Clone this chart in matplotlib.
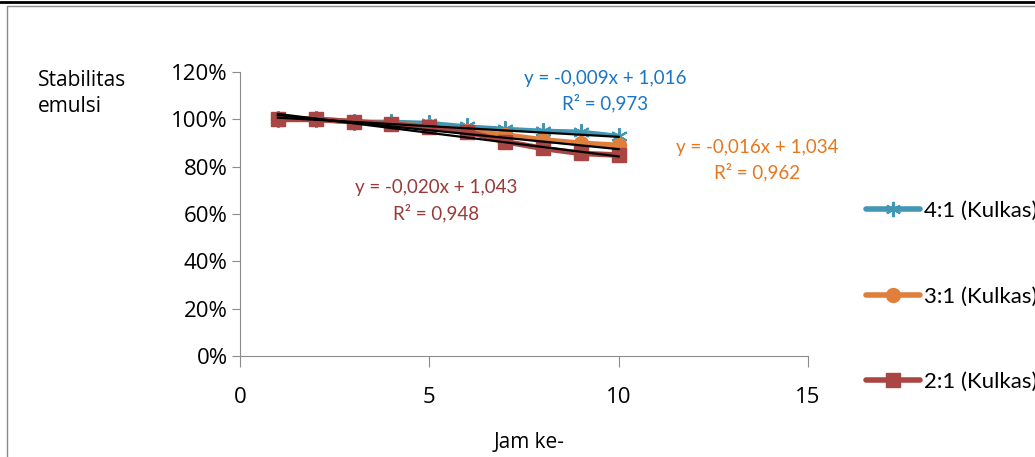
import matplotlib.pyplot as plt
from matplotlib.lines import Line2D
import numpy as np

# data
jam = [1, 2, 3, 4, 5, 6, 7, 8, 9, 10]
seri_label = ['4:1 (Kulkas)', '3:1 (Kulkas)', '2:1 (Kulkas)']
stab_41 = [1.00, 1.00, 0.99, 0.99, 0.985, 0.97, 0.96, 0.952, 0.948, 0.93]
stab_31 = [1.00, 1.00, 0.99, 0.98, 0.97, 0.95, 0.934, 0.913, 0.899, 0.89]
stab_21 = [1.00, 1.00, 0.99, 0.98, 0.966, 0.948, 0.906, 0.877, 0.856, 0.849]
# trendline (slope, intercept, R2) seperti di grafik
tren_slope = [-0.009, -0.016, -0.020]
tren_int = [1.016, 1.034, 1.043]
tren_r2 = [0.973, 0.962, 0.948]
yticks = [0, 0.2, 0.4, 0.6, 0.8, 1.0, 1.2]
xticks = [0, 5, 10, 15]

warna = ['#4298B4', '#E07E3C', '#A94543']
warna_teks = ['#1A76C2', '#E8771F', '#983B39']
marker = [(6, 2, 0), 'o', 's']
msize = [12, 10, 10]

fig = plt.figure(figsize=(10.35, 4.57), dpi=100)
ax = fig.add_axes([240/1035, 1-356/457, 568/1035, 284/457])

semua = [stab_41, stab_31, stab_21]
for i, s in enumerate(semua):
    if i == 0:
        ax.plot(jam, s, color=warna[i], lw=3, marker=marker[i], ms=msize[i],
                mec=warna[i], mew=1.5, zorder=3)
    else:
        ax.plot(jam, s, color=warna[i], lw=4, marker=marker[i], ms=msize[i],
                mec=warna[i], mfc=warna[i], zorder=3 + i)
for i in range(3):
    xx = np.array([jam[0], jam[-1]])
    ax.plot(xx, tren_slope[i]*xx + tren_int[i], color='black', lw=1.6, zorder=7)

# label persamaan
pos = [(9.64, 1.174, 1.069), (13.65, 0.883, 0.777), (5.18, 0.71, 0.604)]
for i in range(3):
    px, py1, py2 = pos[i]
    eq = 'y = ' + ('%.3f' % tren_slope[i]).replace('.', ',') + 'x + ' + ('%.3f' % tren_int[i]).replace('.', ',')
    ax.text(px, py1, eq, color=warna_teks[i], fontsize=13.5, ha='center', va='center',
            family='Lato', zorder=8)
    ax.text(px, py2, 'R² = ' + ('%.3f' % tren_r2[i]).replace('.', ','), color=warna_teks[i],
            fontsize=13.5, ha='center', va='center', family='Lato', zorder=8)

ax.set_xlim(0, 15)
ax.set_ylim(0, 1.2)
ax.set_xticks(xticks)
ax.set_yticks(yticks)
ax.set_yticklabels(['%d%%' % round(v*100) for v in yticks])
for sp in ['top', 'right']:
    ax.spines[sp].set_visible(False)
for sp in ['left', 'bottom']:
    ax.spines[sp].set_color('#8C8C8C')
ax.tick_params(axis='y', length=6, color='#8C8C8C', pad=3, labelsize=16)
ax.tick_params(axis='x', length=8, color='#8C8C8C', pad=14, labelsize=16)
for t in ax.get_xticklabels() + ax.get_yticklabels():
    t.set_family('Open Sans')

fig.text(38/1035, 1-80/457, 'Stabilitas', fontsize=15, family='Open Sans', va='center')
fig.text(38/1035, 1-106/457, 'emulsi', fontsize=15, family='Open Sans', va='center')
fig.text(529/1035, 1-443/457, 'Jam ke-', fontsize=15, family='Open Sans', ha='center', va='center')

# legenda manual
handles = []
for i in range(3):
    if i == 0:
        h = Line2D([], [], color=warna[i], lw=4, marker=marker[i], ms=11, mec=warna[i], mew=1.5,
                   solid_capstyle='round')
    else:
        h = Line2D([], [], color=warna[i], lw=4, marker=marker[i], ms=10, mec=warna[i],
                   mfc=warna[i], solid_capstyle='round')
    handles.append(h)
leg = fig.legend(handles, seri_label, loc='upper left', bbox_to_anchor=(866/1035, 1-201/457),
                 frameon=False, prop={'family': 'Lato', 'size': 16}, handlelength=2.45,
                 handletextpad=0.15, labelspacing=2.95, borderpad=0, borderaxespad=0)

# bingkai
fig.add_artist(Line2D([0, 1], [1-2/457, 1-2/457], color='black', lw=2))
fig.add_artist(Line2D([7/1035, 7/1035, 1], [0, 1-6/457, 1-6/457], color='#8C8C8C', lw=1))

fig.savefig('out.png', dpi=100)
